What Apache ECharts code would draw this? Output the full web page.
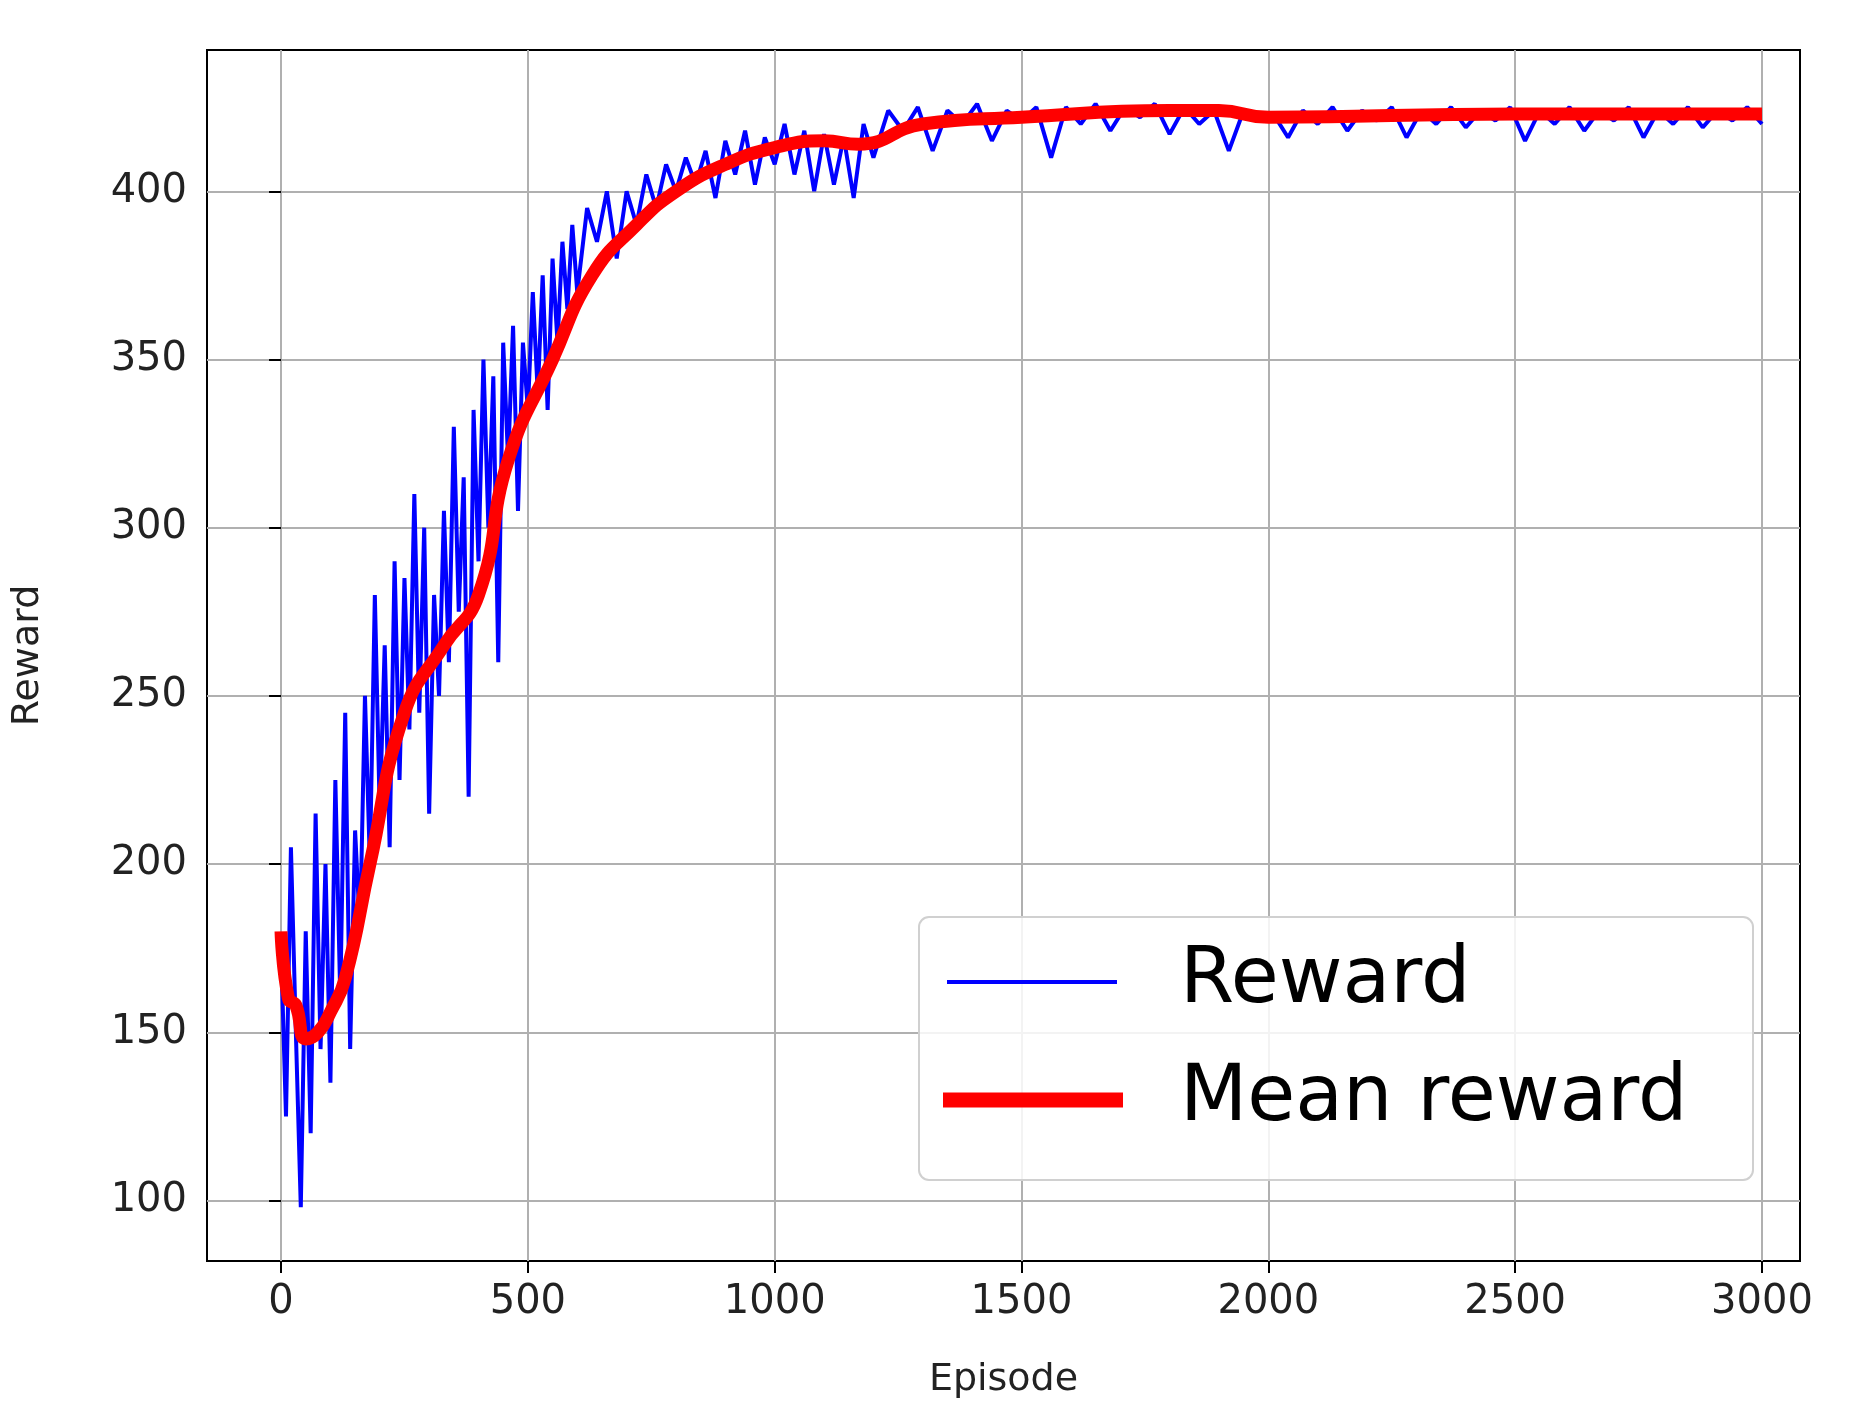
<!DOCTYPE html>
<html>
<head>
<meta charset="utf-8">
<script src="https://cdn.jsdelivr.net/npm/echarts@6/dist/echarts.min.js"></script>
<style>html,body{margin:0;padding:0;background:#fff}#chart{width:1859px;height:1420px}</style>
</head>
<body>
<div id="chart"></div>
<script>
// raw reward per episode
var rewardEpisodes = [];
var rewardValues = [
  175,125,205,150,98,180,120,215,145,200,135,225,160,245,145,210,180,250,200,280,
  215,265,205,290,225,285,240,310,245,300,215,280,250,305,260,330,275,315,220,335,
  290,350,300,345,260,355,320,360,305,355,335,370,340,375,335,380,355,385,365,390,370,
  395,385,400,380,400,390,405,395,408,400,410,402,412,398,415,405,418,402,416,408,
  420,405,418,400,417,402,416,398,420,410,
  424,418,425,412,424,420,426,415,424,421,425,410,425,420,426,418,425,422,426,417,
  425,420,424,412,424,421,423,416,424,420,425,418,424,421,425,416,424,420,425,419,
  424,421,425,415,424,420,425,418,424,421,425,416,424,420,425,419,424,421,425,420
];
for (var e = 0; e <= 600; e += 10) rewardEpisodes.push(e);
for (var e = 620; e <= 1200; e += 20) rewardEpisodes.push(e);
for (var e = 1230; e <= 3000; e += 30) rewardEpisodes.push(e);

// smoothed mean reward
var meanEpisodes = [0, 15, 30, 50, 75, 100, 130, 180, 250, 330, 400, 460, 550, 630, 720, 800, 900, 1000, 1100, 1170, 1300, 1500, 1800, 1900, 2000, 2500, 3000];
var meanValues   = [180, 160, 158, 148, 150, 156, 166, 200, 245, 265, 280, 320, 350, 375, 390, 400, 408, 413, 415, 414, 420, 422, 424, 424, 422, 423, 423];

var xTicks = [0, 500, 1000, 1500, 2000, 2500, 3000];
var yTicks = [100, 150, 200, 250, 300, 350, 400];

function pairs(xs, ys) { return xs.map(function (x, i) { return [x, ys[i]]; }); }
function plain(v) { return String(v); }

var chart = echarts.init(document.getElementById('chart'));
var font = 'DejaVu Sans';
chart.setOption({
  animation: false,
  grid: { left: 207, right: 59, top: 50, bottom: 159, show: true, borderColor: '#000', borderWidth: 2 },
  xAxis: {
    type: 'value', min: -150, max: 3077,
    name: 'Episode', nameLocation: 'middle', nameGap: 100,
    nameTextStyle: { fontFamily: font, fontSize: 38, color: '#222' },
    axisLine: { show: false },
    axisTick: { show: true, length: 12, lineStyle: { color: '#000', width: 2 }, customValues: xTicks },
    axisLabel: { fontFamily: font, fontSize: 40, color: '#222', margin: 22, formatter: plain, customValues: xTicks },
    splitLine: { show: true, lineStyle: { color: '#b0b0b0', width: 2 }, customValues: xTicks }
  },
  yAxis: {
    type: 'value', min: 82, max: 442,
    name: 'Reward', nameLocation: 'middle', nameGap: 160,
    nameTextStyle: { fontFamily: font, fontSize: 38, color: '#222' },
    axisLine: { show: false },
    axisTick: { show: true, length: 12, lineStyle: { color: '#000', width: 2 }, customValues: yTicks },
    axisLabel: { fontFamily: font, fontSize: 40, color: '#222', margin: 20, formatter: plain, customValues: yTicks },
    splitLine: { show: true, lineStyle: { color: '#b0b0b0', width: 2 }, customValues: yTicks }
  },
  series: [
    { name: 'Reward', type: 'line', showSymbol: false, data: pairs(rewardEpisodes, rewardValues),
      lineStyle: { color: '#0000ff', width: 4 }, z: 2 },
    { name: 'Mean reward', type: 'line', showSymbol: false, smooth: true, data: pairs(meanEpisodes, meanValues),
      lineStyle: { color: '#ff0000', width: 13 }, z: 3 }
  ],
  graphic: [
    { type: 'rect', shape: { x: 919, y: 917, width: 834, height: 263, r: 10 },
      style: { fill: 'rgba(255,255,255,0.85)', stroke: '#d0d0d0', lineWidth: 2 }, z: 10 },
    { type: 'line', shape: { x1: 947, y1: 982, x2: 1117, y2: 982 }, style: { stroke: '#0000ff', lineWidth: 4 }, z: 11 },
    { type: 'line', shape: { x1: 943, y1: 1100, x2: 1123, y2: 1100 }, style: { stroke: '#ff0000', lineWidth: 15 }, z: 11 },
    { type: 'text', x: 1180, y: 982, style: { text: 'Reward', font: '78px DejaVu Sans', fill: '#000', textVerticalAlign: 'middle' }, z: 11 },
    { type: 'text', x: 1180, y: 1100, style: { text: 'Mean reward', font: '78px DejaVu Sans', fill: '#000', textVerticalAlign: 'middle' }, z: 11 }
  ]
});
</script>
</body>
</html>
